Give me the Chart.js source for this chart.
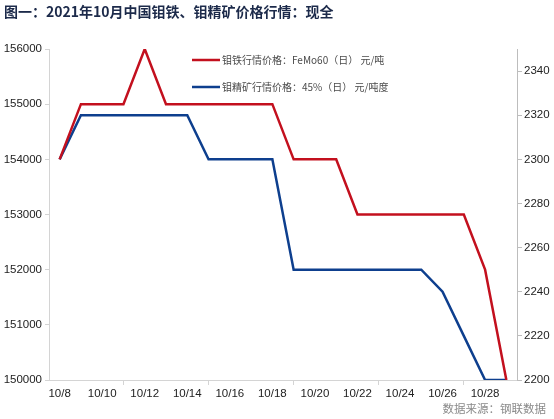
<!DOCTYPE html>
<html><head><meta charset="utf-8">
<script src="https://cdn.jsdelivr.net/npm/chart.js@4"></script>
<style>html,body{margin:0;padding:0;background:#fff}#wrap{width:554px;height:419px}</style>
</head><body><div id="wrap"><canvas id="c" width="554" height="419"></canvas></div>
<script>
const titleText = '图一：2021年10月中国钼铁、钼精矿价格行情：现全';
const sourceText = '数据来源：钢联数据';
const categories = ['10/8','10/9','10/10','10/11','10/12','10/13','10/14','10/15','10/16','10/17','10/18','10/19','10/20','10/21','10/22','10/23','10/24','10/25','10/26','10/27','10/28','10/29'];
const feMoLabel = '钼铁行情价格：FeMo60（日） 元/吨';
const feMoValues = [154000,155000,155000,155000,156000,155000,155000,155000,155000,155000,155000,154000,154000,154000,153000,153000,153000,153000,153000,153000,152000,150000];
const oreLabel = '钼精矿行情价格：45%（日） 元/吨度';
const oreValues = [2300,2320,2320,2320,2320,2320,2320,2300,2300,2300,2300,2250,2250,2250,2250,2250,2250,2250,2240,2220,2200,2200];
const leftTicks = [150000,151000,152000,153000,154000,155000,156000];
const rightTicks = [2200,2220,2240,2260,2280,2300,2320,2340];

const RED = '#c3101e', BLUE = '#0e3f8e';
const tickFont = {family: "'Liberation Sans', Arial, sans-serif", size: 11.5};

const overlay = {
  id: 'overlay',
  afterDraw(chart) {
    const ctx = chart.ctx;
    ctx.save();
    ctx.fillStyle = '#1c2a4a';
    ctx.font = "bold 14px 'Noto Sans CJK SC', sans-serif";
    ctx.textBaseline = 'middle';
    ctx.textAlign = 'left';
    ctx.fillText(titleText, 4, 12);
    ctx.font = "10px 'Noto Sans CJK SC', sans-serif";
    chart.data.datasets.forEach((ds, i) => {
      const y = [60, 87][i];
      ctx.strokeStyle = ds.borderColor;
      ctx.lineWidth = 2.5;
      ctx.beginPath(); ctx.moveTo(192, y); ctx.lineTo(220, y); ctx.stroke();
      ctx.fillStyle = '#4a4a4a';
      ctx.fillText(ds.label, 222, y);
    });
    ctx.fillStyle = '#8a8a8a';
    ctx.font = "11.5px 'Noto Sans CJK SC', sans-serif";
    ctx.textAlign = 'right';
    ctx.fillText(sourceText, 546, 409);
    ctx.restore();
  }
};

new Chart(document.getElementById('c'), {
  type: 'line',
  data: {
    labels: categories,
    datasets: [
      {label: feMoLabel, data: feMoValues, yAxisID: 'yL', borderColor: RED, backgroundColor: RED, borderWidth: 2.5, pointRadius: 0, tension: 0, fill: false},
      {label: oreLabel, data: oreValues, yAxisID: 'yR', borderColor: BLUE, backgroundColor: BLUE, borderWidth: 2.5, pointRadius: 0, tension: 0, fill: false}
    ]
  },
  options: {
    responsive: false,
    animation: false,
    devicePixelRatio: 1,
    layout: {padding: {top: 49, left: 0, right: 0, bottom: 0}},
    plugins: {legend: {display: false}, title: {display: false}, tooltip: {enabled: false}},
    scales: {
      x: {
        offset: true,
        grid: {offset: true, drawOnChartArea: false, drawTicks: true, tickLength: 5, color: '#d4d4d4'},
        border: {color: '#d4d4d4'},
        ticks: {autoSkip: true, maxTicksLimit: 11, maxRotation: 0, minRotation: 0, color: '#222', font: tickFont, padding: 2},
        afterFit(s) { s.height = 39; }
      },
      yL: {
        position: 'left',
        min: 150000, max: 156000,
        afterBuildTicks(s) { s.ticks = leftTicks.map(v => ({value: v})); },
        grid: {drawOnChartArea: false, drawTicks: true, tickLength: 4, color: '#d4d4d4'},
        border: {color: '#d4d4d4'},
        ticks: {color: '#222', font: tickFont, padding: 3, callback: v => String(v)},
        afterFit(s) { s.width = 49; }
      },
      yR: {
        position: 'right',
        min: 2200, max: 2350,
        afterBuildTicks(s) { s.ticks = rightTicks.map(v => ({value: v})); },
        grid: {drawOnChartArea: false, drawTicks: true, tickLength: 5, color: '#bdbdbd'},
        border: {color: '#bdbdbd'},
        ticks: {color: '#222', font: tickFont, padding: 2, callback: v => String(v)},
        afterFit(s) { s.width = 37; }
      }
    }
  },
  plugins: [overlay]
});
</script></body></html>
